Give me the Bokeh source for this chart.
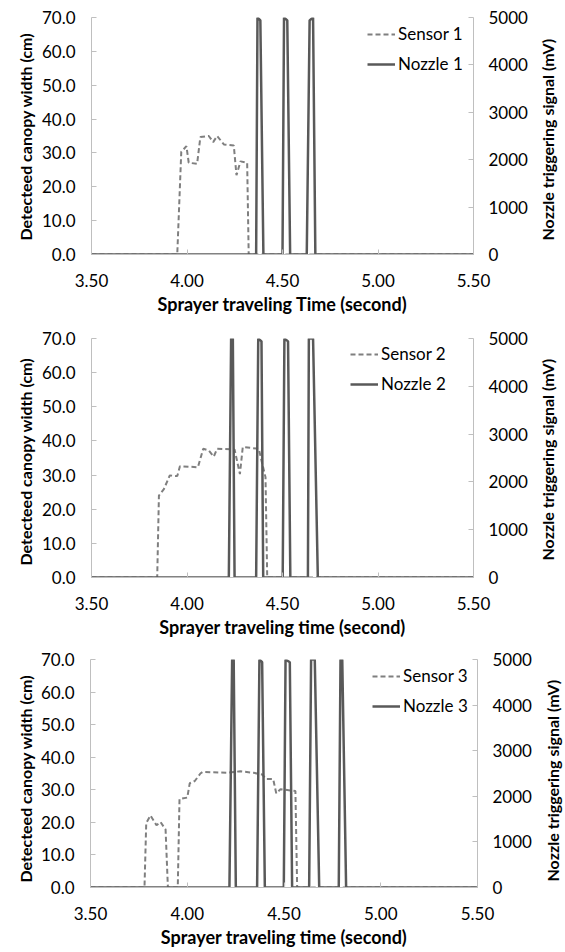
import math
from bokeh.plotting import figure
from bokeh.models import (Range1d, LinearAxis, FixedTicker, NumeralTickFormatter,
                          Legend, LegendItem)
from bokeh.layouts import column, row
from bokeh.core.properties import value
from bokeh.embed import file_html
from bokeh.resources import INLINE

# ---------------- data ----------------
x_ticks = [3.50, 4.00, 4.50, 5.00, 5.50]
cm_ticks = [0, 10, 20, 30, 40, 50, 60, 70]
mv_ticks = [0, 1000, 2000, 3000, 4000, 5000]

t_sensor1 = [3.50, 3.949, 3.970, 3.997, 4.009, 4.053, 4.070, 4.114, 4.137, 4.158,
             4.193, 4.245, 4.259, 4.280, 4.315, 4.323, 5.50]
w_sensor1 = [0, 0, 30.3, 32.0, 27.1, 26.8, 34.7, 35.0, 33.2, 35.0,
             32.5, 32.2, 23.4, 27.5, 27.1, 0, 0]
t_nozzle1 = [3.50, 4.362, 4.369, 4.384, 4.400, 4.500, 4.508, 4.525, 4.540,
             4.627, 4.642, 4.660, 4.672, 5.50]
v_nozzle1 = [0, 0, 5000, 4940, 0, 0, 5000, 4940, 0, 0, 4940, 5000, 0, 0]

t_sensor2 = [3.50, 3.844, 3.853, 3.879, 3.910, 3.949, 3.963, 4.057, 4.085, 4.114,
             4.140, 4.158, 4.249, 4.277, 4.292, 4.376, 4.394, 4.411, 4.420, 5.50]
w_sensor2 = [0, 0, 24.0, 25.9, 29.9, 29.7, 32.6, 32.3, 37.7, 37.2,
             35.4, 37.7, 37.5, 30.3, 38.2, 37.7, 33.3, 29.4, 0, 0]
t_nozzle2 = [3.50, 4.219, 4.231, 4.240, 4.249, 4.362, 4.373, 4.390, 4.399,
             4.501, 4.510, 4.529, 4.541, 4.633, 4.638, 4.660, 4.685, 5.50]
v_nozzle2 = [0, 0, 5000, 5000, 0, 0, 5000, 4940, 0,
             0, 5000, 4940, 0, 0, 5000, 5000, 0, 0]

t_sensor3 = [3.50, 3.779, 3.788, 3.810, 3.841, 3.862, 3.888, 3.900, 3.951, 3.960,
             4.000, 4.013, 4.039, 4.068, 4.080, 4.206, 4.275, 4.344, 4.387, 4.408,
             4.444, 4.460, 4.482, 4.559, 4.568, 5.50]
w_sensor3 = [0, 0, 19.8, 22.1, 19.1, 20.1, 17.8, 0, 0, 27.2,
             27.6, 32.0, 32.7, 35.0, 35.5, 35.2, 35.7, 35.2, 34.7, 33.3,
             33.3, 28.9, 30.2, 29.6, 0, 0]
t_nozzle3 = [3.50, 4.218, 4.232, 4.240, 4.251, 4.361, 4.373, 4.387, 4.401,
             4.499, 4.508, 4.530, 4.542, 4.630, 4.640, 4.659, 4.682,
             4.783, 4.792, 4.801, 4.821, 5.50]
v_nozzle3 = [0, 0, 5000, 5000, 0, 0, 5000, 4940, 0,
             0, 5000, 4940, 0, 0, 5000, 5000, 0,
             0, 5000, 5000, 0, 0]

sensor_labels = ["Sensor 1", "Sensor 2", "Sensor 3"]
nozzle_labels = ["Nozzle 1", "Nozzle 2", "Nozzle 3"]
x_titles = ["Sprayer traveling Time (second)",
            "Sprayer traveling time (second)",
            "Sprayer traveling time (second)"]
y_title = "Detecteed canopy width (cm)"
y2_title = "Nozzle triggering signal (mV)"

# ---------------- style / layout ----------------
FONT = "Lato"
AXIS_COLOR = "#bfbfbf"
SENSOR_COLOR = "#7f7f7f"
NOZZLE_COLOR = "#595959"
TICK_SIZE = "17px"
XTITLE_SIZE = "18px"
VTITLE_SIZE = "16px"
LEFT_STRIP = 36
RIGHT_STRIP = 27
MAIN_W = 565 - LEFT_STRIP - RIGHT_STRIP


def style_axis(ax, ticker, fmt, title=None):
    ax.ticker = FixedTicker(ticks=ticker)
    ax.formatter = NumeralTickFormatter(format=fmt)
    if title is not None:
        ax.axis_label = title
    ax.axis_label_text_font = FONT
    ax.axis_label_text_font_style = "bold"
    ax.axis_label_text_font_size = XTITLE_SIZE
    ax.axis_label_text_color = "#000000"
    ax.major_label_text_font = FONT
    ax.major_label_text_font_size = TICK_SIZE
    ax.major_label_text_color = "#000000"
    ax.axis_line_color = AXIS_COLOR
    ax.major_tick_line_color = AXIS_COLOR
    ax.major_tick_in = 5
    ax.major_tick_out = 0
    ax.minor_tick_line_color = None


def title_strip(width, height, frame_top, frame_bottom, text, cx, bottom_from_top):
    """A narrow, axis-less figure holding a vertical (bottom-to-top) title.
    Its plot frame is aligned with the neighbouring chart's frame by the row
    layout, so the y range is chosen so that y = height - pixels-from-row-top."""
    s = figure(width=width, height=height, output_backend="svg",
               toolbar_location=None, x_range=Range1d(0, width),
               y_range=Range1d(height - frame_bottom, height - frame_top),
               x_axis_type=None, y_axis_type=None, min_border=0)
    s.outline_line_color = None
    s.background_fill_color = "white"
    s.border_fill_color = "white"
    s.text(x=[cx], y=[height - bottom_from_top], text=[text], angle=math.pi / 2,
           text_align="left", text_baseline="middle",
           text_font=value(FONT), text_font_style=value("bold"),
           text_font_size=value(VTITLE_SIZE), text_color="#000000")
    return s


def make_panel(t_s, w_s, t_n, v_n, s_lab, n_lab, x_title, height,
               b_top, b_bottom, b_left, b_right, leg_xy):
    p = figure(width=MAIN_W, height=height, output_backend="svg",
               toolbar_location=None,
               x_range=Range1d(3.5, 5.5), y_range=Range1d(0, 70),
               min_border_top=b_top, min_border_bottom=b_bottom,
               min_border_left=b_left, min_border_right=b_right)
    p.extra_y_ranges = {"mv": Range1d(0, 5000)}
    p.outline_line_color = None
    p.grid.visible = False
    p.background_fill_color = "white"
    p.border_fill_color = "white"

    style_axis(p.xaxis[0], x_ticks, "0.00", x_title)
    p.xaxis[0].major_label_standoff = 19
    p.xaxis[0].axis_label_standoff = 3
    style_axis(p.yaxis[0], cm_ticks, "0.0")
    p.yaxis[0].major_label_standoff = 16

    ax2 = LinearAxis(y_range_name="mv")
    style_axis(ax2, mv_ticks, "0")
    ax2.major_label_standoff = 15
    p.add_layout(ax2, "right")

    r_s = p.line(t_s, w_s, line_color=SENSOR_COLOR, line_width=2,
                 line_dash="5 3")
    r_n = p.line(t_n, v_n, y_range_name="mv", line_color=NOZZLE_COLOR,
                 line_width=2.5)

    leg = Legend(items=[LegendItem(label=s_lab, renderers=[r_s]),
                        LegendItem(label=n_lab, renderers=[r_n])],
                 location=leg_xy)
    leg.background_fill_alpha = 0
    leg.border_line_alpha = 0
    leg.label_text_font = FONT
    leg.label_text_font_size = TICK_SIZE
    leg.label_text_color = "#000000"
    leg.glyph_width = 28
    leg.glyph_height = 20
    leg.label_height = 20
    leg.label_standoff = 3
    leg.spacing = 9
    leg.padding = 0
    leg.margin = 0
    p.add_layout(leg)
    return p


# panel 1: page y 0..318, frame x 91..473, y 17..254
h1, ft1, fb1 = 318, 17, 254
p1 = make_panel(t_sensor1, w_sensor1, t_nozzle1, v_nozzle1,
                sensor_labels[0], nozzle_labels[0], x_titles[0],
                h1, ft1, h1 - fb1, 91 - LEFT_STRIP, 538 - 473, (276, 180))
r1 = row(title_strip(LEFT_STRIP, h1, ft1, fb1, y_title, 25, 240), p1,
         title_strip(RIGHT_STRIP, h1, ft1, fb1, y2_title, 9, 240), spacing=0)

# panel 2: page y 318..641, frame y 338..577 (row coords 20..259)
h2, ft2, fb2 = 323, 20, 259
p2 = make_panel(t_sensor2, w_sensor2, t_nozzle2, v_nozzle2,
                sensor_labels[1], nozzle_labels[1], x_titles[1],
                h2, ft2, h2 - fb2, 91 - LEFT_STRIP, 538 - 473, (259, 183))
r2 = row(title_strip(LEFT_STRIP, h2, ft2, fb2, y_title, 25, 247), p2,
         title_strip(RIGHT_STRIP, h2, ft2, fb2, y2_title, 9, 242), spacing=0)

# panel 3: page y 641..952, frame x 90..477, y 659..887 (row coords 18..246)
h3, ft3, fb3 = 311, 18, 246
p3 = make_panel(t_sensor3, w_sensor3, t_nozzle3, v_nozzle3,
                sensor_labels[2], nozzle_labels[2], x_titles[2],
                h3, ft3, h3 - fb3, 90 - LEFT_STRIP, 538 - 477, (282, 171))
r3 = row(title_strip(LEFT_STRIP, h3, ft3, fb3, y_title, 25, 241), p3,
         title_strip(RIGHT_STRIP, h3, ft3, fb3, y2_title, 14, 240), spacing=0)

layout = column(r1, r2, r3, spacing=0)
open("out.html", "w").write(file_html(layout, INLINE))
